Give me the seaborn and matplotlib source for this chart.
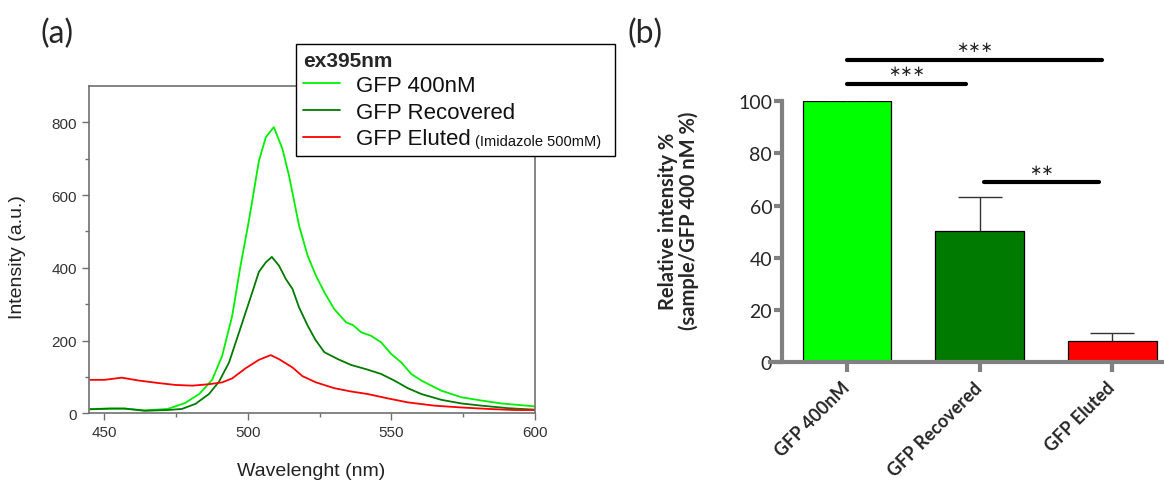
"""Two-panel GFP figure: emission spectra (a) and relative intensity bars (b)."""

import matplotlib

matplotlib.use("Agg")
import matplotlib.pyplot as plt
import numpy as np
import pandas as pd
import seaborn as sns

# ── (a) emission spectra, ex 395 nm ──
wl_400 = [445, 452, 457, 464, 472, 478, 483, 487.5, 491, 494.5, 497.4, 500, 501.2, 503.8,
          506.2, 509, 512, 514.3, 517.8, 520.8, 523.7, 526.6, 530, 534.2, 536.5, 539.4,
          542.9, 546.4, 549.9, 553.4, 556.9, 560.4, 567.4, 574.4, 581.4, 588.4, 600]
int_400 = [12, 13, 13, 8, 12, 28, 53, 92, 158, 268, 406, 516, 571, 694,
           759, 787, 727, 653, 516, 433, 378, 333, 287, 250, 243, 223,
           213, 195, 163, 140, 108, 90, 62, 44, 35, 27, 19]

wl_rec = [445, 452, 457, 464, 472, 477, 481.7, 486.4, 489.9, 493.4, 496.9, 499.2, 501.5,
          503.8, 506.2, 508.3, 510.8, 513.2, 515.5, 517.8, 520.8, 523.5, 526.6, 531.3,
          535.9, 541.7, 546.4, 551, 555.7, 560.4, 567.4, 574.4, 581.4, 590.7, 600]
int_rec = [11, 13, 13, 7, 9, 12, 26, 53, 87, 140, 223, 278, 333,
           389, 415, 430, 406, 369, 342, 291, 241, 202, 168, 149,
           133, 120, 108, 90, 69, 53, 37, 27, 21, 14, 10]

wl_elu = [445, 450, 456, 462, 469, 474.7, 480.6, 486.4, 491, 494.5, 499.2, 503.8, 507.9,
          510.8, 515.5, 519, 523.7, 530.1, 535.9, 541.7, 548.7, 555.7, 565, 574.4,
          583.7, 593, 600]
int_elu = [92, 92, 98, 90, 83, 78, 76, 80, 85, 96, 124, 147, 160,
           149, 126, 102, 85, 69, 60, 53, 41, 30, 21, 16,
           12, 9, 9]

# ── (b) relative intensity ──
samples = ["GFP 400nM", "GFP Recovered", "GFP Eluted"]
rel_int = [99.9, 50.4, 8.2]
rel_err = [0.6, 12.7, 3.2]
bar_colors = ["#00ff00", "#007a00", "#ff0000"]
line_colors = ["#00f000", "#007a00", "#ff0000"]

sig_x0 = [0.0, 0.0, 1.03]
sig_x1 = [1.92, 0.90, 1.90]
sig_y = [115.8, 106.6, 68.9]
sig_txt = ["∗∗∗", "∗∗∗", "∗∗"]

sns.set_style("ticks")
plt.rcParams["font.family"] = ["Liberation Sans", "DejaVu Sans"]

W, H = 1164, 481
fig = plt.figure(figsize=(W / 100, H / 100), dpi=100)

# ---------------- panel (a) ----------------
ax1 = fig.add_axes([89 / W, 1 - 414.3 / H, 446 / W, 327.3 / H])
spectra = [
    ("GFP 400nM", wl_400, int_400),
    ("GFP Recovered", wl_rec, int_rec),
    ("GFP Eluted", wl_elu, int_elu),
]
for (name, xs, ys), c in zip(spectra, line_colors):
    sns.lineplot(x=xs, y=ys, ax=ax1, color=c, lw=1.3, label=name)

ax1.set_xlim(444.6, 600)
ax1.set_ylim(0, 900)
ax1.set_xticks([450, 500, 550, 600])
ax1.set_xticks([475, 525, 575], minor=True)
ax1.set_yticks([0, 200, 400, 600, 800])
ax1.set_yticks([100, 300, 500, 700], minor=True)
for sp in ax1.spines.values():
    sp.set_color("#707070")
    sp.set_linewidth(1.2)
ax1.tick_params(which="major", length=5, width=1, color="#707070",
                labelsize=11, labelcolor="#333333", direction="out")
ax1.tick_params(which="minor", length=3, width=1, color="#707070", direction="out")
ax1.set_xlabel("Wavelenght (nm)", fontsize=14, color="#222222")
ax1.set_ylabel("Intensity (a.u.)", fontsize=14, color="#222222", va="center")
ax1.xaxis.set_label_coords(0.499, -0.149)
ax1.yaxis.set_label_coords(-0.161, 0.479)

leg = ax1.legend(
    loc="upper left",
    bbox_to_anchor=(296 / W, 1 - 157 / H, 319 / W, 112 / H),
    bbox_transform=fig.transFigure,
    mode="expand",
    borderaxespad=0,
    title="ex395nm",
    title_fontproperties={"weight": "bold", "size": 15},
    alignment="left",
    fontsize=16,
    frameon=True,
    fancybox=False,
    framealpha=1,
    edgecolor="black",
    handlelength=1.7,
    handletextpad=0.7,
    labelspacing=0.25,
    borderpad=0.3,
)
leg.get_frame().set_linewidth(1.0)
leg.set_zorder(5)
for t in leg.get_texts():
    t.set_color("#111111")
ax1.annotate("(Imidazole 500mM)", xy=(1, 0), xycoords=leg.get_texts()[2],
             xytext=(3, 1), textcoords="offset points", fontsize=10.5,
             va="bottom", ha="left", color="#111111", zorder=6)

# ---------------- panel (b) ----------------
ax2 = fig.add_axes([770 / W, 1 - 363.3 / H, 394 / W, 261.3 / H])
df = pd.DataFrame({"sample": samples, "rel": rel_int})
sns.barplot(data=df, x="sample", y="rel", hue="sample", palette=bar_colors,
            saturation=1, legend=False, width=0.67, edgecolor="black",
            linewidth=0.9, errorbar=None, ax=ax2, zorder=2)
eb = ax2.errorbar(np.arange(len(samples)), rel_int, yerr=[[0] * 3, rel_err],
                  fmt="none", ecolor="#333333", elinewidth=1.0, capsize=16,
                  capthick=1.0, zorder=3)
eb[1][0].set_visible(False)

ax2.set_xlim(-0.58, 2.39)
ax2.set_ylim(0, 100)
ax2.set_yticks(np.arange(0, 101, 20))
ax2.spines["top"].set_visible(False)
ax2.spines["right"].set_visible(False)
ax2.spines["left"].set_position(("data", -0.49))
for s in ("left", "bottom"):
    ax2.spines[s].set_color("#808080")
    ax2.spines[s].set_linewidth(3)
ax2.tick_params(axis="y", length=6, width=3, color="#808080", labelsize=14, pad=1)
ax2.tick_params(axis="x", length=7, width=3, color="#808080", pad=9)
for lab in ax2.get_yticklabels():
    lab.set_fontfamily("Lato")
ax2.set_xticks(range(len(samples)))
ax2.set_xticklabels(samples, rotation=45, ha="right", va="center",
                    rotation_mode="anchor", fontsize=13, fontweight="bold",
                    fontfamily="Lato")
ax2.set_xlabel("")
ax2.set_ylabel("Relative intensity %\n(sample/GFP 400 nM %)", fontsize=14.5,
               fontweight="bold", fontfamily="Lato", va="center", linespacing=1.0)
ax2.yaxis.set_label_coords(-0.232, 0.545)

for x0, x1, y, t in zip(sig_x0, sig_x1, sig_y, sig_txt):
    ax2.plot([x0, x1], [y, y], color="black", lw=3, solid_capstyle="round",
             clip_on=False)
    ax2.text((x0 + x1) / 2, y + 2.2, t, ha="center", va="bottom", fontsize=10.5,
             color="#222222", fontfamily="DejaVu Sans", clip_on=False)

fig.text(57 / W, 1 - 34 / H, "(a)", fontsize=23, fontfamily="Lato", ha="center", va="center")
fig.text(645 / W, 1 - 34 / H, "(b)", fontsize=23, fontfamily="Lato", ha="center", va="center")

fig.savefig("out.png", dpi=100)
